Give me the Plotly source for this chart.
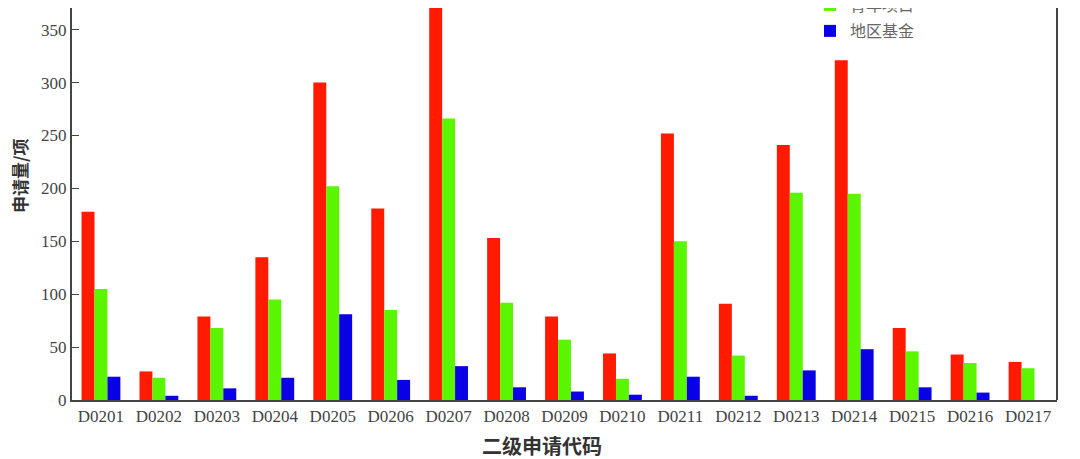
import plotly.graph_objects as go

codes = ["D0201", "D0202", "D0203", "D0204", "D0205", "D0206", "D0207", "D0208", "D0209",
         "D0210", "D0211", "D0212", "D0213", "D0214", "D0215", "D0216", "D0217"]
mianshang = [178, 27, 79, 135, 300, 181, 390, 153, 79, 44, 252, 91, 241, 321, 68, 43, 36]
qingnian = [105, 21, 68, 95, 202, 85, 266, 92, 57, 20, 150, 42, 196, 195, 46, 35, 30]
diqu = [22, 4, 11, 21, 81, 19, 32, 12, 8, 5, 22, 4, 28, 48, 12, 7, 0]

# page body has an 8px margin, so the figure starts at (8, 8) of the screenshot
OFF = 8
W, H = 1080 - OFF, 459 - OFF
L, R, T, B = 64, 23, 0, 59
plot_w = W - L - R
plot_h = H - T - B
y_top = 370.5


def px(sx):
    return (sx - OFF - L) / plot_w


def py(sy):
    return (H - B - (sy - OFF)) / plot_h


fig = go.Figure()
fig.add_trace(go.Bar(x=codes, y=mianshang, name="面上项目", marker_color="#ff1a00",
                     marker_line_width=0, legend="legend"))
fig.add_trace(go.Bar(x=codes, y=qingnian, name="青年项目", marker_color="#5cf500",
                     marker_line_width=0, legend="legend2"))
fig.add_trace(go.Bar(x=codes, y=diqu, name="地区基金", marker_color="#0a00e6",
                     marker_line_width=0, legend="legend3"))

leg = dict(x=px(810), xanchor="left", yanchor="middle", bgcolor="rgba(0,0,0,0)",
           font=dict(family="Noto Sans CJK SC", size=16, color="#666666"))

fig.update_layout(
    width=W, height=H,
    margin=dict(l=L, r=R, t=T, b=B, autoexpand=False),
    paper_bgcolor="white", plot_bgcolor="white",
    barmode="group", bargap=0.33, bargroupgap=0,
    showlegend=True,
    legend=dict(leg, y=py(-30)),
    legend2=dict(leg, y=py(5)),
    legend3=dict(leg, y=py(31)),
    xaxis=dict(showline=True, linecolor="#444444", linewidth=2,
               ticks="", showgrid=False, automargin=False,
               tickfont=dict(family="Liberation Serif", size=17, color="#444444")),
    yaxis=dict(range=[0, y_top], showline=True, linecolor="#444444", linewidth=2,
               ticks="inside", ticklen=7, tickcolor="#444444", dtick=50, showgrid=False,
               automargin=False,
               tickfont=dict(family="Liberation Serif", size=17, color="#444444")),
    shapes=[dict(type="line", xref="paper", yref="paper", x0=1, x1=1, y0=0, y1=1,
                 line=dict(color="#444444", width=2))],
    annotations=[
        dict(text="<b>二级申请代码</b>", xref="paper", yref="paper",
             x=px(542), y=py(445), xanchor="center", yanchor="middle", showarrow=False,
             font=dict(family="Noto Sans CJK SC", size=20, color="#333333")),
        dict(text="<b>申请量/项</b>", xref="paper", yref="paper", textangle=-90,
             x=px(19), y=py(176), xanchor="center", yanchor="middle", showarrow=False,
             font=dict(family="Noto Sans CJK SC", size=17, color="#333333")),
    ],
)

fig.write_html("out.html")
